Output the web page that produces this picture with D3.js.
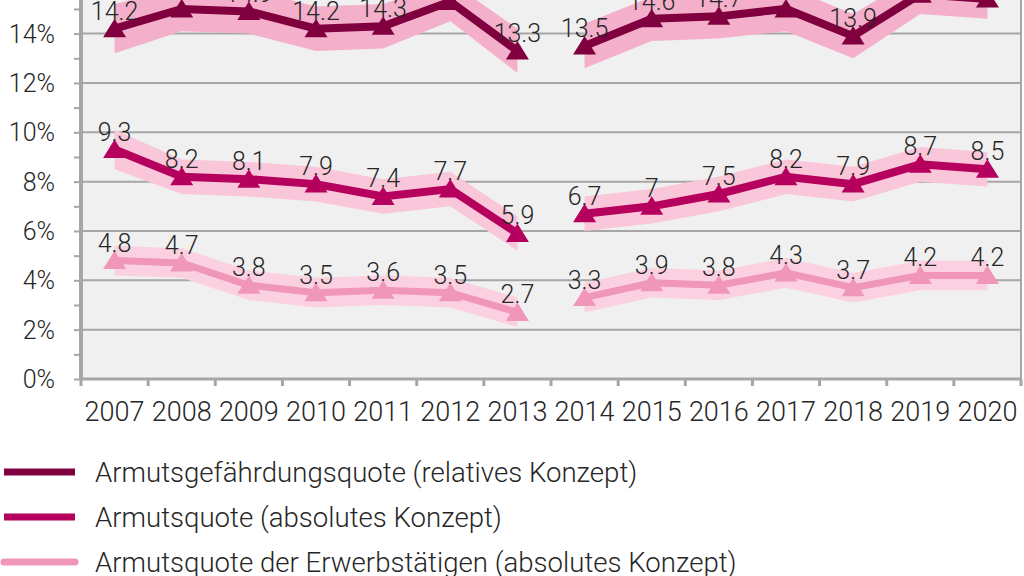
<!DOCTYPE html>
<html><head><meta charset="utf-8">
<script src="https://cdn.jsdelivr.net/npm/d3@7"></script>
<style>
html,body{margin:0;padding:0;background:#fff;}
svg{display:block;font-family:Roboto,"Noto Sans",sans-serif;font-weight:300;}
</style></head>
<body><svg id="c" width="1024" height="576"></svg>
<script>
const years = [2007,2008,2009,2010,2011,2012,2013,2014,2015,2016,2017,2018,2019,2020];
const breakYear = 2014;
const yTicks = [0,2,4,6,8,10,12,14];
const gridTicks = [2,4,6,8,10,12,14,16,18];
const seriesNames = ["Armutsgefährdungsquote (relatives Konzept)","Armutsquote (absolutes Konzept)","Armutsquote der Erwerbstätigen (absolutes Konzept)"];
const relativ = [14.2,15.0,14.9,14.2,14.3,15.3,13.3,13.5,14.6,14.7,15.0,13.9,15.6,15.4];
const relativLow = [13.2,14.1,14.0,13.3,13.4,14.5,12.4,12.6,13.7,13.8,14.1,13.0,14.8,14.6];
const relativHigh = [15.2,15.9,15.8,15.1,15.2,16.1,14.2,14.4,15.5,15.6,15.9,14.8,16.4,16.2];
const absolut = [9.3,8.2,8.1,7.9,7.4,7.7,5.9,6.7,7,7.5,8.2,7.9,8.7,8.5];
const absolutLow = [8.5,7.5,7.4,7.2,6.7,7.0,5.2,6.0,6.3,6.8,7.5,7.2,8.0,7.8];
const absolutHigh = [10.1,8.9,8.8,8.6,8.1,8.4,6.6,7.4,7.7,8.2,8.9,8.6,9.4,9.2];
const erwerb = [4.8,4.7,3.8,3.5,3.6,3.5,2.7,3.3,3.9,3.8,4.3,3.7,4.2,4.2];
const erwerbLow = [4.2,4.1,3.2,2.9,3.0,2.9,2.1,2.7,3.3,3.2,3.7,3.1,3.6,3.6];
const erwerbHigh = [5.4,5.3,4.4,4.1,4.2,4.1,3.3,3.9,4.5,4.4,4.9,4.3,4.8,4.8];

const series = [
  {name:seriesNames[0], v:relativ, lo:relativLow, hi:relativHigh, color:"#80003f", band:"#f4b0ca", w:8},
  {name:seriesNames[1], v:absolut, lo:absolutLow, hi:absolutHigh, color:"#b5005e", band:"#f9c6da", w:8},
  {name:seriesNames[2], v:erwerb, lo:erwerbLow, hi:erwerbHigh, color:"#f096b9", band:"#fbd1e1", w:7}
];

const svg = d3.select("#c");
const L = 81, R = 1021, B = 379;
const x = d3.scaleBand().domain(years).range([L, R]);
const y = d3.scaleLinear().domain([0, 18]).range([B, B - 18*24.67]);
const cx = d => x(d) + x.bandwidth()/2;
const grid = "#a6a6a6", txt = "#262626";

svg.append("rect").attr("x", L).attr("y", y(18)).attr("width", R-L).attr("height", B-y(18)).attr("fill","#f0f0f0");

// gridlines
svg.append("g").selectAll("line").data(gridTicks).join("line")
  .attr("x1", L).attr("x2", R).attr("y1", d=>y(d)).attr("y2", d=>y(d))
  .attr("stroke", grid).attr("stroke-width", 2);

// y axis
const yAxis = svg.append("g").attr("transform", `translate(${L},0)`)
  .call(d3.axisLeft(y).tickValues(d3.range(0,19,1)).tickSize(7).tickFormat(""));
yAxis.select(".domain").remove();
yAxis.selectAll("line").attr("stroke", grid).attr("stroke-width", 2);
svg.append("g").selectAll("text").data(yTicks).join("text")
  .attr("x", 55).attr("y", d=>y(d)).attr("dy","0.36em").attr("text-anchor","end")
  .attr("font-size", 25).attr("fill", txt).text(d=>d+"%");

// x axis
const xb = d3.scaleLinear().domain([0, years.length]).range([L, R]);
svg.append("g").selectAll("line").data(d3.range(0, years.length+1)).join("line")
  .attr("x1", d=>xb(d)).attr("x2", d=>xb(d)).attr("y1", B).attr("y2", B+7)
  .attr("stroke", grid).attr("stroke-width", 3);
svg.append("g").selectAll("text").data(years).join("text")
  .attr("x", d=>cx(d)).attr("y", 421).attr("text-anchor","middle")
  .attr("font-size", 27).attr("fill", txt).text(d=>d);

// axis lines
svg.append("line").attr("x1",L).attr("x2",L).attr("y1",y(18)).attr("y2",B+1).attr("stroke",grid).attr("stroke-width",4);
svg.append("line").attr("x1",L).attr("x2",R).attr("y1",B).attr("y2",B).attr("stroke",grid).attr("stroke-width",3);
svg.append("line").attr("x1",R).attr("x2",R).attr("y1",y(18)).attr("y2",B).attr("stroke",grid).attr("stroke-width",2);

// segments split at break
const idx = years.map((yr,i)=>i);
const segs = [idx.filter(i=>years[i]<breakYear), idx.filter(i=>years[i]>=breakYear)];

const area = s => d3.area().x(i=>cx(years[i])).y0(i=>y(s.lo[i])).y1(i=>y(s.hi[i]));
const line = s => d3.line().x(i=>cx(years[i])).y(i=>y(s.v[i]));

series.forEach(s=>{
  segs.forEach(seg=>{
    svg.append("path").attr("d", area(s)(seg)).attr("fill", s.band);
  });
});
series.forEach(s=>{
  segs.forEach(seg=>{
    svg.append("path").attr("d", line(s)(seg)).attr("fill","none").attr("stroke", s.color)
      .attr("stroke-width", s.w).attr("stroke-linejoin","miter");
  });
  svg.append("g").selectAll("path").data(idx).join("path")
    .attr("d","M0,-10L11.5,8.5L-11.5,8.5Z")
    .attr("transform", i=>`translate(${cx(years[i])},${y(s.v[i])})`)
    .attr("fill", s.color);
});
// labels
series.forEach(s=>{
  svg.append("g").selectAll("text").data(idx).join("text")
    .attr("x", i=>cx(years[i])).attr("y", i=>y(s.v[i]) - 9)
    .attr("text-anchor","middle").attr("font-size", 25).attr("fill", txt)
    .text(i=>String(s.v[i]));
});

// legend
const lg = svg.append("g");
series.forEach((s,k)=>{
  const yy = 472 + k*45;
  lg.append("line").attr("x1", 4).attr("x2", 75).attr("y1", yy).attr("y2", yy)
    .attr("stroke", s.color).attr("stroke-width", 7).attr("stroke-linecap", k===2?"round":"butt");
  lg.append("text").attr("x", 95).attr("y", yy).attr("dy","0.36em")
    .attr("font-size", 27.6).attr("fill", txt).text(s.name);
});
</script></body></html>
